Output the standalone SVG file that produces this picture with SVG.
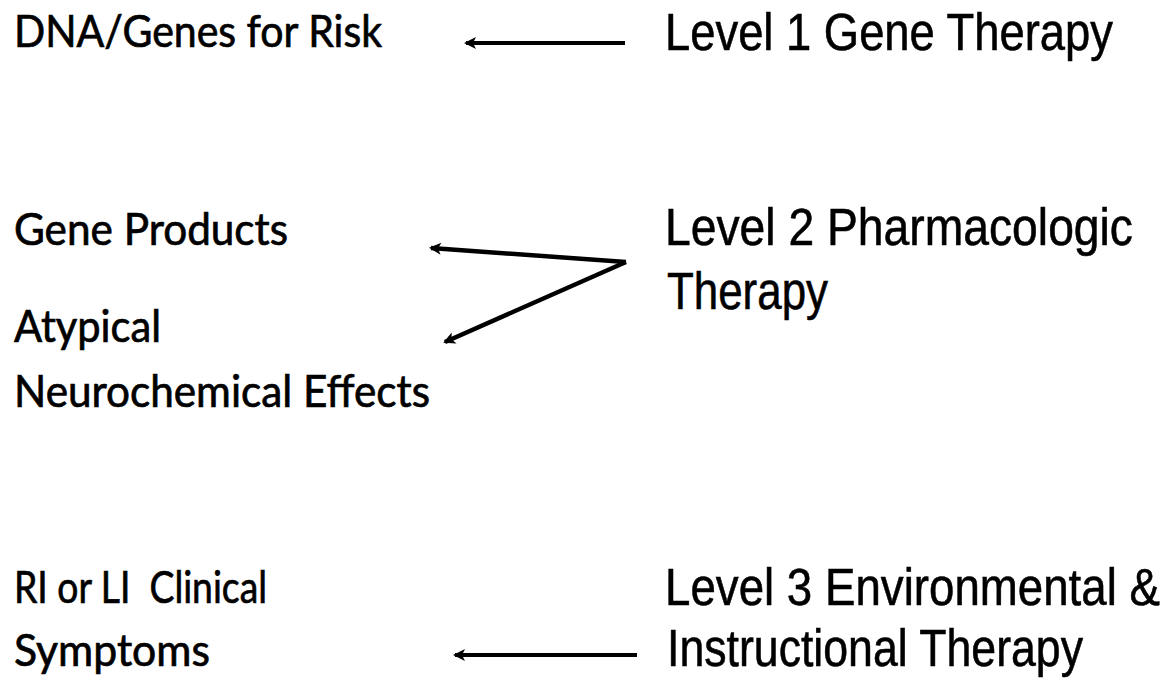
<svg xmlns="http://www.w3.org/2000/svg" width="1168" height="682" viewBox="0 0 1168 682">
<style>
.l{font-family:Lato,"Open Sans","Noto Sans",sans-serif;font-size:44px;fill:#000;stroke:#000;stroke-width:0.7px}
.r{font-family:"Liberation Sans",Arial,sans-serif;font-size:45px;fill:#000;stroke:#000;stroke-width:0.5px}
.c{stroke:#000;fill:none;stroke-linecap:butt}
</style>
<defs>
<marker id="ah" markerUnits="userSpaceOnUse" markerWidth="16" markerHeight="16" refX="12" refY="8" orient="auto" viewBox="0 0 16 16">
<path d="M14,8 L2,2 L5,8 L2,14 Z" fill="#000"/>
</marker>
</defs>
<rect width="1168" height="682" fill="#fff"/>
<g id="node-dna"><text class="l" x="14" y="47" textLength="368" lengthAdjust="spacingAndGlyphs">DNA/Genes for Risk</text></g>
<g id="node-level1"><text class="r" transform="translate(665,50) scale(1,1.15)" x="0" y="0" textLength="448" lengthAdjust="spacingAndGlyphs">Level 1 Gene Therapy</text></g>
<g id="node-geneproducts"><text class="l" x="14" y="245" textLength="274" lengthAdjust="spacingAndGlyphs">Gene Products</text></g>
<g id="node-atypical">
<text class="l" x="14" y="342" textLength="147" lengthAdjust="spacingAndGlyphs">Atypical</text>
<text class="l" x="14" y="407" textLength="416" lengthAdjust="spacingAndGlyphs">Neurochemical Effects</text>
</g>
<g id="node-level2">
<text class="r" transform="translate(665,245) scale(1,1.15)" x="0" y="0" textLength="468" lengthAdjust="spacingAndGlyphs">Level 2 Pharmacologic</text>
<text class="r" transform="translate(667,309) scale(1,1.15)" x="0" y="0" textLength="161" lengthAdjust="spacingAndGlyphs">Therapy</text>
</g>
<g id="node-symptoms">
<text class="l" x="14" y="603" textLength="253" lengthAdjust="spacingAndGlyphs" xml:space="preserve">RI or LI  Clinical</text>
<text class="l" x="14" y="666" textLength="196" lengthAdjust="spacingAndGlyphs">Symptoms</text>
</g>
<g id="node-level3">
<text class="r" transform="translate(665,605) scale(1,1.15)" x="0" y="0" textLength="495" lengthAdjust="spacingAndGlyphs">Level 3 Environmental &amp;</text>
<text class="r" transform="translate(667,666) scale(1,1.15)" x="0" y="0" textLength="416" lengthAdjust="spacingAndGlyphs">Instructional Therapy</text>
</g>
<g id="connectors">
<line class="c" x1="625" y1="43" x2="466" y2="43" stroke-width="4" marker-end="url(#ah)"/>
<line class="c" x1="626" y1="262" x2="431" y2="248" stroke-width="4.5" marker-end="url(#ah)"/>
<line class="c" x1="626" y1="262" x2="445" y2="342" stroke-width="4.5" marker-end="url(#ah)"/>
<line class="c" x1="637" y1="655" x2="455" y2="655" stroke-width="4" marker-end="url(#ah)"/>
</g>
</svg>
